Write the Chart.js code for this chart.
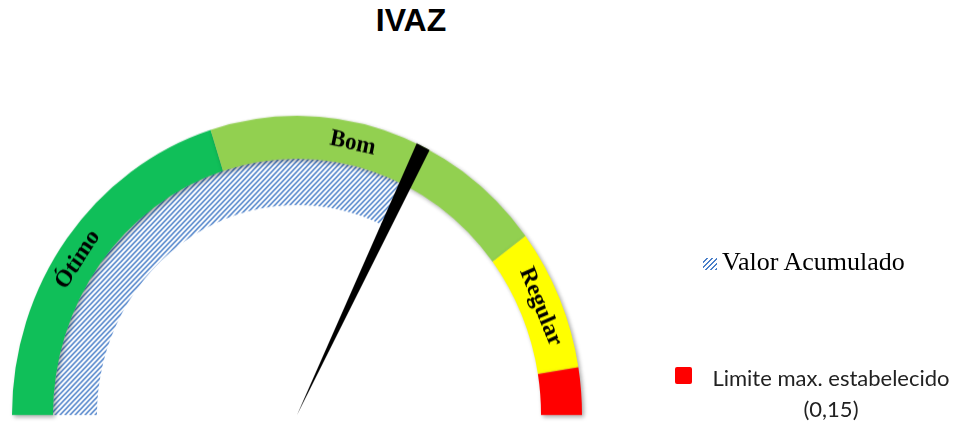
<!DOCTYPE html>
<html>
<head>
<meta charset="utf-8">
<script src="https://cdn.jsdelivr.net/npm/chart.js@4/dist/chart.umd.min.js"></script>
<style>
  html, body { margin: 0; padding: 0; background: #fff; }
  #wrap { position: relative; width: 957px; height: 428px; overflow: hidden; }
  #gauge { position: absolute; left: 0; top: 0; width: 957px; height: 428px;
           transform-origin: 0 415px; transform: scaleY(1.05); }
  #gauge canvas { position: absolute; left: 0; top: 0; }
  .title { position: absolute; left: 311px; width: 200px; top: 2px; text-align: center;
           font: bold 32px "Liberation Sans", Arial, sans-serif; color: #000; }
  .lg1 { position: absolute; left: 703px; top: 247px; font: 26px "Liberation Serif", "Times New Roman", serif;
         color: #000; white-space: nowrap; }
  .lg1 .sw { display: inline-block; width: 14px; height: 12px; margin-right: 5px; vertical-align: 0px;
             background: repeating-linear-gradient(-45deg, #4a7fc9 0 1.6px, #fff 1.6px 3.6px); }
  .lg2 { position: absolute; left: 675px; top: 367px; width: 17px; height: 17px; background: #ff0000; border-radius: 2px; }
  .lg3 { position: absolute; left: 700px; width: 262px; top: 362px; text-align: center;
         font: 22px Lato, "Liberation Sans", sans-serif; color: #222; line-height: 31px; }
</style>
</head>
<body>
<div id="wrap">
  <div class="title">IVAZ</div>
  <div id="gauge">
    <canvas id="bands" width="957" height="428"></canvas>
    <canvas id="needle" width="957" height="428"></canvas>
  </div>
  <div class="lg1"><span class="sw"></span>Valor Acumulado</div>
  <div class="lg2"></div>
  <div class="lg3">Limite max. estabelecido<br>(0,15)</div>
</div>
<script>
// faixas do velocimetro (em % do semicirculo)
var faixas = ["Ótimo", "Bom", "Regular", "Limite"];
var faixaValores = [40.2, 39.4, 15.3, 5.1];
var faixaCores = ["#10bf59", "#92d050", "#ffff00", "#ff0000"];

// valor acumulado e ponteiro
var valorAcumulado = 64.6;
var larguraPonteiro = 1.6;

function hatch() {
  var c = document.createElement('canvas');
  c.width = 5; c.height = 5;
  var g = c.getContext('2d');
  g.fillStyle = '#fff';
  g.fillRect(0, 0, 5, 5);
  g.strokeStyle = '#4a7fc9';
  g.lineWidth = 1.5;
  g.beginPath();
  g.moveTo(-1, 6); g.lineTo(6, -1);
  g.moveTo(-1, 1); g.lineTo(1, -1);
  g.moveTo(4, 6); g.lineTo(6, 4);
  g.stroke();
  return g.createPattern(c, 'repeat');
}

var pad = { left: 12, right: 375, top: 130, bottom: 13 };

var sombra = {
  id: 'sombra',
  beforeDatasetDraw: function (chart, args) {
    if (args.index !== 0) return;
    var ctx = chart.ctx;
    ctx.save();
    ctx.shadowColor = 'rgba(0,0,0,0.35)';
    ctx.shadowBlur = 4;
    ctx.shadowOffsetX = 2;
    ctx.shadowOffsetY = 2;
  },
  afterDatasetDraw: function (chart, args) {
    if (args.index !== 0) return;
    chart.ctx.restore();
  }
};

// rotulos curvos sobre as faixas
var rotulos = {
  id: 'rotulos',
  afterDatasetsDraw: function (chart) {
    var ctx = chart.ctx;
    var arcs = chart.getDatasetMeta(0).data;
    var pos = [0.47, 0.42, 0.5];
    ctx.save();
    ctx.font = 'bold 23px "Liberation Serif", "Times New Roman", serif';
    ctx.fillStyle = '#000';
    ctx.textAlign = 'center';
    ctx.textBaseline = 'middle';
    for (var i = 0; i < 3; i++) {
      var a = arcs[i];
      var ang = a.startAngle + (a.endAngle - a.startAngle) * pos[i];
      var r = (a.innerRadius + a.outerRadius) / 2;
      ctx.save();
      ctx.translate(a.x + r * Math.cos(ang), a.y + r * Math.sin(ang));
      ctx.rotate(ang + Math.PI / 2);
      ctx.fillText(faixas[i], 0, 0);
      ctx.restore();
    }
    ctx.restore();
  }
};

new Chart(document.getElementById('bands'), {
  type: 'doughnut',
  data: {
    labels: faixas,
    datasets: [{
      data: faixaValores,
      backgroundColor: faixaCores,
      borderWidth: 0,
      weight: 41
    }, {
      data: [valorAcumulado, 100 - valorAcumulado],
      backgroundColor: [hatch(), 'rgba(0,0,0,0)'],
      borderWidth: 0,
      weight: 44
    }]
  },
  options: {
    responsive: false,
    animation: false,
    rotation: -90,
    circumference: 180,
    cutout: '70.2%',
    layout: { padding: pad },
    plugins: { legend: { display: false }, tooltip: { enabled: false } },
    events: []
  },
  plugins: [sombra, rotulos]
});

new Chart(document.getElementById('needle'), {
  type: 'pie',
  data: {
    labels: ['', 'Ponteiro', ''],
    datasets: [{
      data: [valorAcumulado - larguraPonteiro / 2, larguraPonteiro, 100 - valorAcumulado - larguraPonteiro / 2],
      backgroundColor: ['rgba(0,0,0,0)', '#000', 'rgba(0,0,0,0)'],
      borderWidth: 0
    }]
  },
  options: {
    responsive: false,
    animation: false,
    rotation: -90,
    circumference: 180,
    layout: { padding: pad },
    plugins: { legend: { display: false }, tooltip: { enabled: false } },
    events: []
  }
});
</script>
</body>
</html>
